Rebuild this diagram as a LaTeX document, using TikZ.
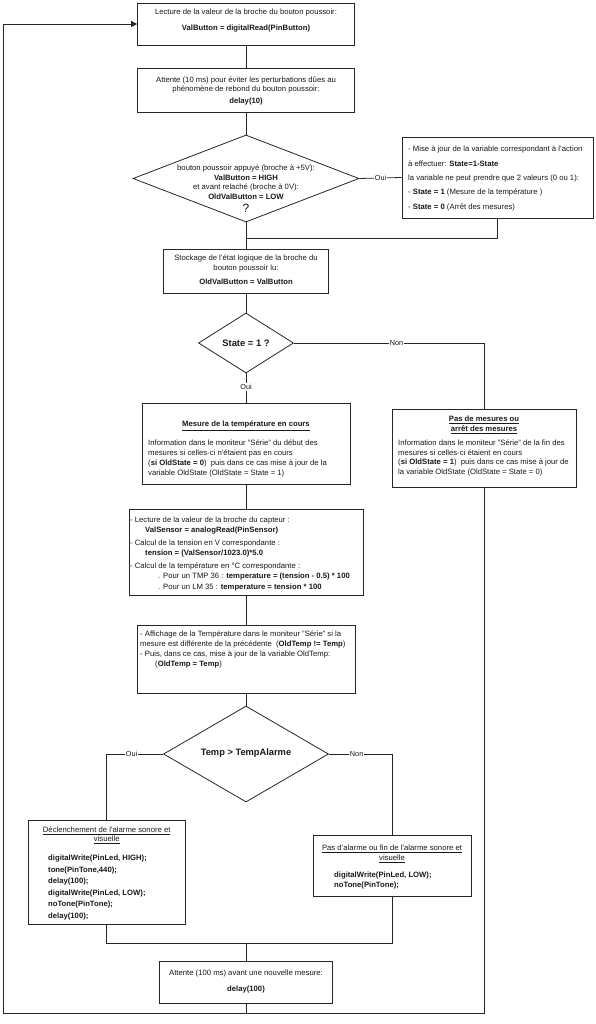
\documentclass[tikz,border=0pt]{standalone}
\usepackage{fontspec}
\setmainfont{Liberation Sans}
\usetikzlibrary{shapes.geometric,arrows.meta}
\begin{document}
\begin{tikzpicture}[x=1pt,y=-1pt,
  conn/.style={draw=black!85, line width=0.8pt},
  box/.style={draw=black!85, line width=0.8pt, fill=white, rectangle, inner sep=0pt},
  dia/.style={draw=black!85, line width=0.8pt, fill=white, diamond, inner sep=0pt},
  txt/.style={inner sep=0pt, font=\fontsize{7.7}{9.5}\selectfont, text=black!90},
  big/.style={inner sep=0pt, font=\fontsize{9.4}{11}\selectfont\bfseries, text=black!90},
  lbl/.style={fill=white, inner sep=1pt, font=\fontsize{7.3}{8}\selectfont, text=black!90}
]
\useasboundingbox[fill=white] (0,0) rectangle (595,1024);

% ---------- shapes ----------
\node[box, minimum width=217pt, minimum height=42pt] (b1) at (246,24) {};
\node[box, minimum width=217pt, minimum height=44pt] (b2) at (246,90) {};
\node[dia, minimum width=226pt, minimum height=87pt] (d1) at (246,178.5) {};
\node[box, minimum width=191pt, minimum height=81pt] (r1) at (497.5,177.5) {};
\node[box, minimum width=165pt, minimum height=44pt] (b3) at (246,271) {};
\node[dia, minimum width=95pt, minimum height=60pt] (d2) at (246,343) {};
\node[box, minimum width=208pt, minimum height=81pt] (b4) at (246,443.5) {};
\node[box, minimum width=184pt, minimum height=78pt] (b5) at (484,448) {};
\node[box, minimum width=234pt, minimum height=86pt] (b6) at (246,552) {};
\node[box, minimum width=218pt, minimum height=68pt] (b7) at (246,659) {};
\node[dia, minimum width=165pt, minimum height=96pt] (d3) at (246,754) {};
\node[box, minimum width=157pt, minimum height=104pt] (b8) at (106.7,872) {};
\node[box, minimum width=158pt, minimum height=61pt] (b9) at (392,865.5) {};
\node[box, minimum width=173pt, minimum height=42pt] (b10) at (246,982) {};

\coordinate (j1) at (246,238);
\coordinate (m1) at (246,943);
\coordinate (bl) at (246,1013);
\coordinate (lb) at (3,1013);

% ---------- connectors ----------
\draw[conn] (b1.south) -- (b2.north);
\draw[conn] (b2.south) -- (d1.north);
\draw[conn] (d1.east) -- node[lbl] (l1) {Oui} (r1.west);
\draw[conn] (r1.south) |- (j1);
\draw[conn] (d1.south) -- (b3.north);
\draw[conn] (b3.south) -- (d2.north);
\draw[conn] (d2.south) -- node[lbl, pos=0.47] (l2) {Oui} (b4.north);
\draw[conn] (d2.east) -| node[lbl, pos=0.27] (l3) {Non} (b5.north);
\draw[conn] (b4.south) -- (b6.north);
\draw[conn] (b6.south) -- (b7.north);
\draw[conn] (b7.south) -- (d3.north);
\draw[conn] (d3.west) -| node[lbl, pos=0.28] (l4) {Oui} (b8.north);
\draw[conn] (d3.east) -| node[lbl, pos=0.22] (l5) {Non} (b9.north);
\draw[conn] (b8.south) |- (m1) -| (b9.south);
\draw[conn] (m1) -- (b10.north);
\draw[conn] (b10.south) -- (bl);
\draw[conn, -{Triangle[length=6pt,width=6pt]}] (b5.south) |- (lb) |- (b1.west);

% ---------- texts ----------
\node[txt, anchor=north, align=center] (t1) at (246,8.1)
  {\strut Lecture de la valeur de la broche du bouton poussoir:\\[6.5pt]
   \textbf{ValButton = digitalRead(PinButton)}};

\node[txt, anchor=north, align=center] (t2) at (246,75.6)
  {\strut Attente (10 ms) pour éviter les perturbations dûes au\\
   phénomène de rebond du bouton poussoir:\\[2pt]
   \textbf{delay(10)}};

\node[txt, anchor=north, align=center] (td1) at (246,164.1)
  {\strut bouton poussoir appuyé (broche à +5V):\\
   \textbf{ValButton = HIGH}\\
   et avant relaché (broche à 0V):\\
   \textbf{OldValButton = LOW}};
\node[inner sep=0pt, font=\fontsize{12}{14}\selectfont, text=black!90] (q1) at (246,208) {?};

\node[txt, anchor=north west, align=left] (tr1) at (408,145.1)
  {\strut - Mise à jour de la variable correspondant à l'action\\[4.8pt]
   à effectuer: \textbf{State=1-State}\\[4.8pt]
   la variable ne peut prendre que 2 valeurs (0 ou 1):\\[4.8pt]
   - \textbf{State = 1} (Mesure de la température )\\[4.8pt]
   - \textbf{State = 0} (Arrêt des mesures)};

\node[txt, anchor=north, align=center] (t3) at (246,254.1)
  {\strut Stockage de l'état logique de la broche du\\[0.5pt]
   bouton poussoir lu:\\[4.5pt]
   \textbf{OldValButton = ValButton}};

\node[big] (td2) at (246,343) {State = 1 ?};

\node[txt, anchor=north, align=center] (t4a) at (246,420.1)
  {\strut\underline{\textbf{Mesure de la température en cours}}};
\node[txt, anchor=north west, align=left] (t4b) at (148,439.1)
  {\strut Information dans le moniteur "Série" du début des\\[0.5pt]
   mesures si celles-ci n'étaient pas en cours\\[0.5pt]
   (\textbf{si OldState = 0})\ \ puis dans ce cas mise à jour de la\\[0.5pt]
   variable OldState (OldState = State = 1)};

\node[txt, anchor=north, align=center] (t5a) at (484,415.1)
  {\strut\underline{\textbf{Pas de mesures ou}}\\[0.5pt]
   \underline{\textbf{arrêt des mesures}}};
\node[txt, anchor=north west, align=left] (t5b) at (398,439.1)
  {\strut Information dans le moniteur "Série" de la fin des\\
   mesures si celles-ci étaient en cours\\
   (\textbf{si OldState = 1})\ \ puis dans ce cas mise à jour de\\
   la variable OldState (OldState = State = 0)};

\node[txt, anchor=north west, align=left] (t6) at (130,516.1)
  {\strut - Lecture de la valeur de la broche du capteur :\\[0.5pt]
   \hspace*{15pt}\textbf{ValSensor = analogRead(PinSensor)}\\[3.5pt]
   - Calcul de la tension en V correspondante :\\[0.5pt]
   \hspace*{15pt}\textbf{tension = (ValSensor/1023.0)*5.0}\\[3.5pt]
   - Calcul de la température en °C correspondante :\\[0.5pt]
   \hspace*{28pt}. Pour un TMP 36 : \textbf{temperature = (tension - 0.5) * 100}\\[1.5pt]
   \hspace*{28pt}. Pour un LM 35 : \textbf{temperature = tension * 100}};

\node[txt, anchor=north west, align=left] (t7) at (140,630.1)
  {\strut - Affichage de la Température dans le moniteur "Série" si la\\[0.5pt]
   mesure est différente de la précédente\ \ (\textbf{OldTemp != Temp})\\[0.5pt]
   - Puis, dans ce cas, mise à jour de la variable OldTemp:\\[0.5pt]
   \hspace*{15pt}(\textbf{OldTemp = Temp})};

\node[big, font=\fontsize{9.3}{11}\selectfont\bfseries] (td3) at (246,753) {Temp > TempAlarme};

\node[txt, anchor=north, align=center] (t8a) at (106.7,826.1)
  {\strut\underline{Déclenchement de l'alarme sonore et}\\[-0.5pt]
   \underline{visuelle}};
\node[txt, anchor=north west, align=left] (t8b) at (48,853.8)
  {\strut\textbf{digitalWrite(PinLed, HIGH);}\\[2pt]
   \textbf{tone(PinTone,440);}\\[2pt]
   \textbf{delay(100);}\\[2pt]
   \textbf{digitalWrite(PinLed, LOW);}\\[2pt]
   \textbf{noTone(PinTone);}\\[2pt]
   \textbf{delay(100);}};

\node[txt, anchor=north, align=center] (t9a) at (392,844.1)
  {\strut\underline{Pas d'alarme ou fin de l'alarme sonore et}\\[0.5pt]
   \underline{visuelle}};
\node[txt, anchor=north west, align=left] (t9b) at (334,871.1)
  {\strut\textbf{digitalWrite(PinLed, LOW);}\\[0.5pt]
   \textbf{noTone(PinTone);}};

\node[txt, anchor=north, align=center] (t10) at (246,969.1)
  {\strut Attente (100 ms) avant une nouvelle mesure:\\[6.5pt]
   \textbf{delay(100)}};
\end{tikzpicture}
\end{document}
